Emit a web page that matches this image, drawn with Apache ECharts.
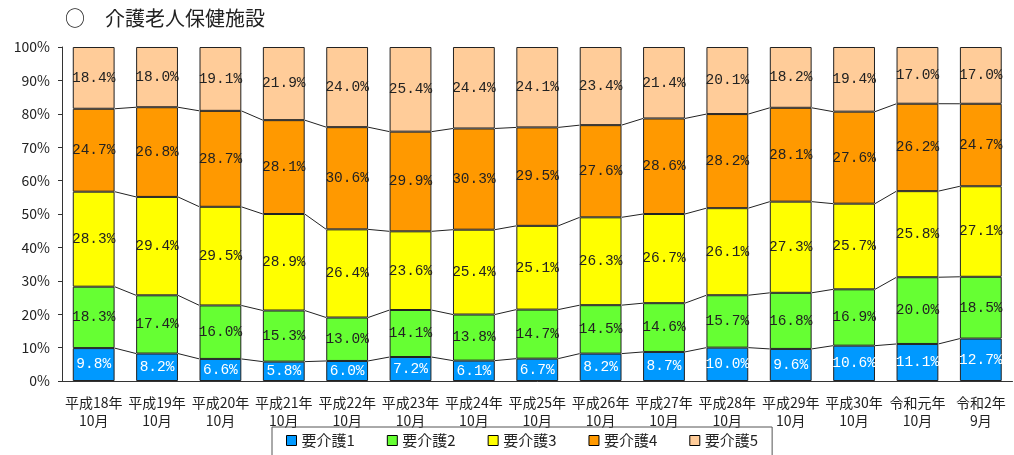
<!DOCTYPE html>
<html>
<head>
<meta charset="utf-8">
<script src="https://cdn.jsdelivr.net/npm/echarts@6/dist/echarts.min.js"></script>
<style>html,body{margin:0;padding:0;background:#fff;}#c{width:1014px;height:455px;}</style>
</head>
<body>
<div id="c"></div>
<script>
const categories = ['平成18年\n10月','平成19年\n10月','平成20年\n10月','平成21年\n10月','平成22年\n10月','平成23年\n10月','平成24年\n10月','平成25年\n10月','平成26年\n10月','平成27年\n10月','平成28年\n10月','平成29年\n10月','平成30年\n10月','令和元年\n10月','令和2年\n9月'];
const seriesNames = ['要介護1','要介護2','要介護3','要介護4','要介護5'];
const care1 = [9.8,8.2,6.6,5.8,6.0,7.2,6.1,6.7,8.2,8.7,10.0,9.6,10.6,11.1,12.7];
const care2 = [18.3,17.4,16.0,15.3,13.0,14.1,13.8,14.7,14.5,14.6,15.7,16.8,16.9,20.0,18.5];
const care3 = [28.3,29.4,29.5,28.9,26.4,23.6,25.4,25.1,26.3,26.7,26.1,27.3,25.7,25.8,27.1];
const care4 = [24.7,26.8,28.7,28.1,30.6,29.9,30.3,29.5,27.6,28.6,28.2,28.1,27.6,26.2,24.7];
const care5 = [18.4,18.0,19.1,21.9,24.0,25.4,24.4,24.1,23.4,21.4,20.1,18.2,19.4,17.0,17.0];
const yTicks = [0,10,20,30,40,50,60,70,80,90,100];

const raw = [care1,care2,care3,care4,care5];
const colors = ['#0099FF','#66FF33','#FFFF00','#FF9900','#FFCC99'];
const labelColors = ['#ffffff','#222222','#222222','#222222','#222222'];
const BAR = 0.66;

// normalise each column to 100% for drawing (labels keep the read values)
const sums = categories.map((_, i) => raw.reduce((a, s) => a + s[i], 0));
const norm = raw.map(s => s.map((v, i) => v / sums[i] * 100));
const cum = categories.map((_, i) => {
  let c = 0; const out = [];
  for (let k = 0; k < 4; k++) { c += norm[k][i]; out.push(c); }
  return out;
});

const barSeries = seriesNames.map((name, k) => ({
  name: name,
  type: 'bar',
  stack: 'total',
  barWidth: (BAR * 100) + '%',
  data: norm[k],
  itemStyle: { color: colors[k], borderColor: '#222', borderWidth: 1 },
  label: {
    show: true,
    position: 'inside',
    color: labelColors[k],
    fontFamily: 'Liberation Mono',
    fontSize: 14.5,
    formatter: p => raw[k][p.dataIndex].toFixed(1) + '%'
  },
  emphasis: { disabled: true }
}));

const lineSeries = {
  type: 'custom',
  silent: true,
  data: categories.slice(0, categories.length - 1).map((_, i) => [i]),
  renderItem: function (params, api) {
    const i = api.value(0);
    const band = api.size([1, 0])[0];
    const half = band * BAR / 2;
    const children = [];
    for (let k = 0; k < 4; k++) {
      const p1 = api.coord([i, cum[i][k]]);
      const p2 = api.coord([i + 1, cum[i + 1][k]]);
      children.push({
        type: 'line',
        shape: { x1: p1[0] + half, y1: p1[1], x2: p2[0] - half, y2: p2[1] },
        style: { stroke: '#222', lineWidth: 1 }
      });
    }
    return { type: 'group', children: children };
  },
  z: 5
};

const chart = echarts.init(document.getElementById('c'));
chart.setOption({
  animation: false,
  textStyle: { fontFamily: 'Noto Sans CJK JP' },
  title: {
    text: '○　介護老人保健施設',
    left: 60, top: 3,
    textStyle: { fontFamily: 'Noto Sans CJK JP', fontSize: 20, fontWeight: 'normal', color: '#222' }
  },
  legend: {
    data: seriesNames,
    top: 427,
    left: 272,
    icon: 'rect',
    itemWidth: 10,
    itemHeight: 10,
    itemGap: 32,
    borderColor: '#555',
    borderWidth: 1,
    padding: [6, 14, 12, 14],
    itemStyle: { borderColor: '#000', borderWidth: 1 },
    textStyle: { fontFamily: 'Noto Sans CJK JP', fontSize: 15, color: '#222' }
  },
  grid: { left: 62, right: 1.5, top: 47, bottom: 74 },
  xAxis: {
    type: 'category',
    data: categories,
    axisLine: { lineStyle: { color: '#333' } },
    axisTick: { inside: true, length: 5, lineStyle: { color: '#333' } },
    axisLabel: { interval: 0, color: '#222', fontSize: 14, lineHeight: 18, margin: 13, fontFamily: 'Noto Sans CJK JP' }
  },
  yAxis: {
    type: 'value',
    min: 0, max: 100, interval: 10,
    axisLine: { show: true, lineStyle: { color: '#333' } },
    axisTick: { show: true, length: 4, lineStyle: { color: '#333' } },
    splitLine: { show: false },
    axisLabel: { color: '#222', fontSize: 14, margin: 12, fontFamily: 'Noto Sans CJK JP',
      formatter: v => yTicks.includes(v) ? v + '%' : '' }
  },
  series: barSeries.concat([lineSeries])
});
</script>
</body>
</html>
